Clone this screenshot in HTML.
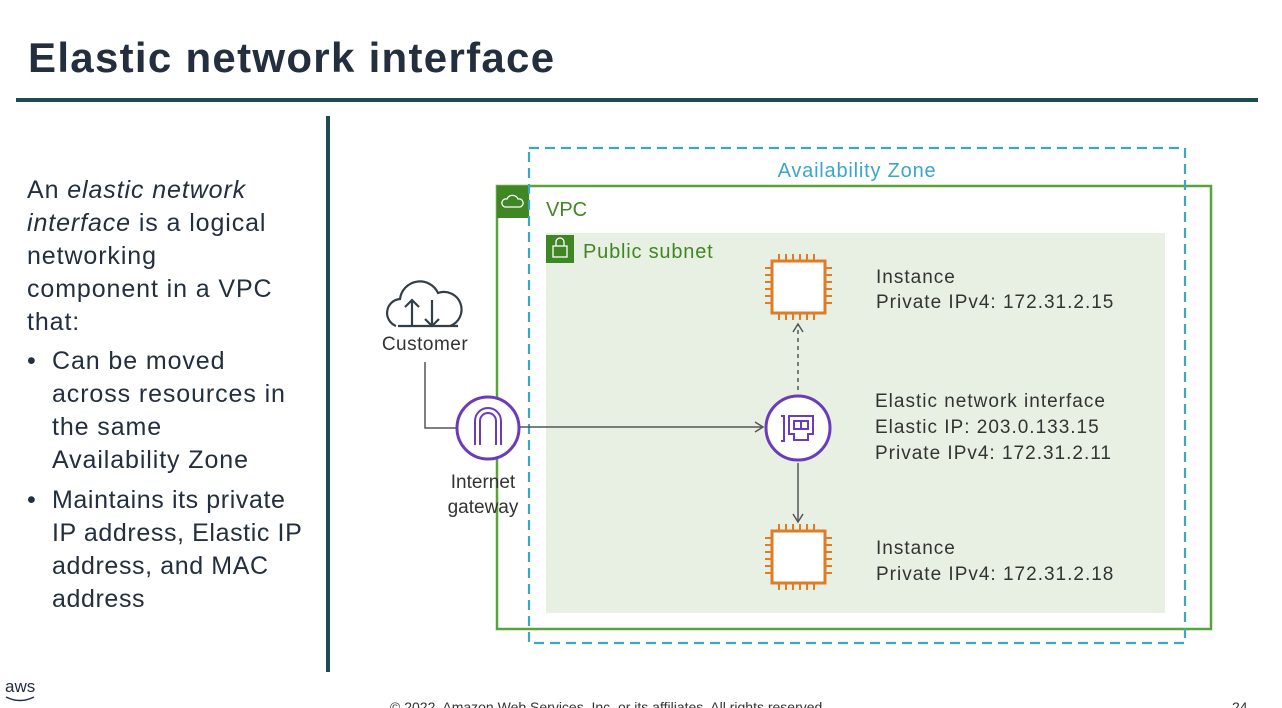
<!DOCTYPE html>
<html><head><meta charset="utf-8"><style>
body{margin:0;width:1282px;height:708px;background:#fff;overflow:hidden;position:relative;font-family:"Liberation Sans","DejaVu Sans",sans-serif}
.t{position:absolute;white-space:nowrap}
</style></head><body>
<div class="t" style="left:28px;top:34px;font-size:42px;letter-spacing:1.3px;font-weight:bold;color:#232f3e">Elastic network interface</div>
<div style="position:absolute;left:16px;top:98px;width:1242px;height:4px;background:#1e4a52"></div>
<div style="position:absolute;left:326px;top:116px;width:4px;height:556px;background:#1e4a52"></div>
<div class="t" style="left:27px;top:174px;font-size:25px;letter-spacing:0.9px;line-height:33px;color:#232f3e">An <i>elastic network</i><br><i>interface</i> is a logical<br>networking<br>component in a VPC<br>that:</div>
<div class="t" style="left:27px;top:345px;font-size:25px;line-height:33px;color:#232f3e">•</div>
<div class="t" style="left:52px;top:345px;font-size:25px;letter-spacing:0.9px;line-height:33px;color:#232f3e">Can be moved<br>across resources in<br>the same<br>Availability Zone</div>
<div class="t" style="left:27px;top:484px;font-size:25px;line-height:33px;color:#232f3e">•</div>
<div class="t" style="left:52px;top:484px;font-size:25px;letter-spacing:0.6px;line-height:33px;color:#232f3e">Maintains its private<br>IP address, Elastic IP<br>address, and MAC<br>address</div>
<svg width="1282" height="708" style="position:absolute;left:0;top:0" font-family="Liberation Sans, sans-serif">
<defs><marker id="a" markerWidth="12" markerHeight="12" refX="10" refY="6" orient="auto" markerUnits="userSpaceOnUse"><path d="M2,1 L10,6 L2,11" fill="none" stroke="#555" stroke-width="1.5"/></marker></defs>
<rect x="546" y="233" width="619" height="380" fill="#e8f0e3"/>
<rect x="497" y="186" width="714" height="443" fill="none" stroke="#5aa33a" stroke-width="2.5"/>
<rect x="497" y="186" width="32" height="32" fill="#3f8624"/>
<path d="M505,207 a4,4 0 0 1 2,-8 a6,6 0 0 1 11,0 a4,4 0 0 1 2,8 z" fill="none" stroke="#fff" stroke-width="1.3"/>
<rect x="529" y="148" width="656" height="495" fill="none" stroke="#3aa6c9" stroke-width="2.2" stroke-dasharray="10,6"/>
<text x="857" y="177" font-size="20" letter-spacing="0.8" fill="#3aa6c9" text-anchor="middle">Availability Zone</text>
<text x="546" y="216" font-size="20" fill="#3f8624">VPC</text>
<rect x="546" y="235" width="28" height="28" fill="#3f8624"/>
<rect x="553" y="246" width="14" height="11" fill="none" stroke="#fff" stroke-width="1.3"/><path d="M556,246 v-4 a4,4 0 0 1 8,0 v4" fill="none" stroke="#fff" stroke-width="1.3"/>
<text x="583" y="258" font-size="20" letter-spacing="0.8" fill="#3f8624">Public subnet</text>
<g fill="none" stroke="#333f48" stroke-width="2.2"><path d="M396,326 a14,14 0 0 1 4,-27 a20,20 0 0 1 38,-6 a16,16 0 0 1 12,33"/><path d="M412,326 v-26 m-7,7 l7,-7 l7,7 M432,300 v26 m-7,-7 l7,7 l7,-7"/><path d="M398,326 h60"/></g>
<text x="425" y="350" font-size="19" letter-spacing="0.5" fill="#333" text-anchor="middle">Customer</text>
<path d="M425,362 V428 H456" fill="none" stroke="#555" stroke-width="1.5"/>
<circle cx="488" cy="428" r="31" fill="#fff" stroke="#6b3bb8" stroke-width="3"/>
<path d="M475,445 V421 a13,13 0 0 1 26,0 V445 M480,445 V421 a8,8 0 0 1 16,0 V445" fill="none" stroke="#6b3bb8" stroke-width="2"/>
<text x="483" y="488" font-size="19" fill="#333" text-anchor="middle">Internet</text>
<text x="483" y="513" font-size="19" fill="#333" text-anchor="middle">gateway</text>
<line x1="520" y1="427" x2="763" y2="427" stroke="#555" stroke-width="1.5" marker-end="url(#a)"/>
<circle cx="798" cy="428" r="32" fill="#fff" stroke="#6b3bb8" stroke-width="3"/>
<path d="M781,416 h3 v25 h-3 M789,416 h24 v18 h-5 v6 h-14 v-6 h-5 z M794,421 h14 v8 h-14 z M801,421 v8" fill="none" stroke="#6b3bb8" stroke-width="2"/>
<line x1="798" y1="390" x2="798" y2="324" stroke="#555" stroke-width="1.5" stroke-dasharray="4,4" marker-end="url(#a)"/>
<line x1="798" y1="463" x2="798" y2="522" stroke="#555" stroke-width="1.5" marker-end="url(#a)"/>
<g id="chip"><rect x="772" y="261" width="53" height="52" fill="#fff" stroke="#e07b26" stroke-width="3"/>
<path d="M779,261 v-7 M786,261 v-7 M793,261 v-7 M800,261 v-7 M807,261 v-7 M814,261 v-7 M779,313 v7 M786,313 v7 M793,313 v7 M800,313 v7 M807,313 v7 M814,313 v7 M772,268 h-7 M772,275 h-7 M772,282 h-7 M772,289 h-7 M772,296 h-7 M772,303 h-7 M825,268 h7 M825,275 h7 M825,282 h7 M825,289 h7 M825,296 h7 M825,303 h7" stroke="#e07b26" stroke-width="2"/></g>
<use href="#chip" transform="translate(0,270)"/>
<g font-size="19" letter-spacing="1" fill="#333"><text x="876" y="283">Instance</text><text x="876" y="308">Private IPv4: 172.31.2.15</text>
<text x="875" y="407">Elastic network interface</text><text x="875" y="433">Elastic IP:  203.0.133.15</text><text x="875" y="459">Private IPv4: 172.31.2.11</text>
<text x="876" y="554">Instance</text><text x="876" y="580">Private IPv4: 172.31.2.18</text></g>
<text x="5" y="692" font-size="17" fill="#232f3e">aws</text>
<path d="M6,697 q14,7 28,0" fill="none" stroke="#232f3e" stroke-width="1.5"/>
<text x="390" y="712" font-size="14" fill="#333">© 2022, Amazon Web Services, Inc. or its affiliates. All rights reserved.</text>
<text x="1232" y="712" font-size="14" fill="#333">24</text>
</svg>
</body></html>
